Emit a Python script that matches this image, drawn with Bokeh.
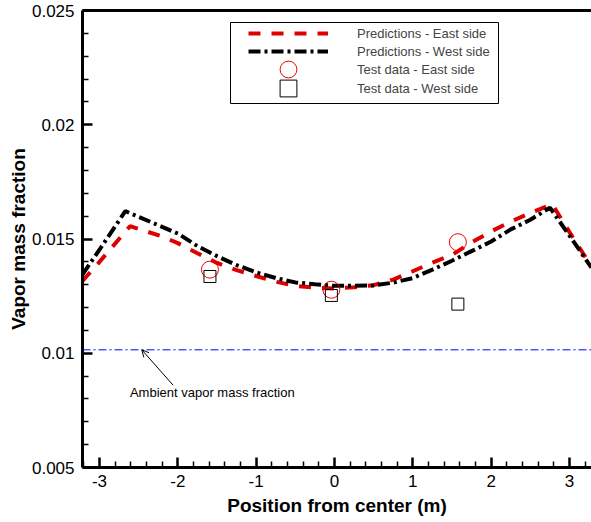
from bokeh.plotting import figure
from bokeh.models import (Range1d, FixedTicker, LinearAxis, Legend, LegendItem, Span,
                          Arrow, OpenHead, BoxAnnotation, Label)
from bokeh.embed import file_html
from bokeh.resources import INLINE

FONT = "Liberation Sans"

# ---- data ----
x_east = [-3.22, -3.0, -2.61, -2.2, -2.0, -1.75, -1.5, -1.25, -1.0, -0.75, -0.5, -0.25,
          0.0, 0.25, 0.5, 0.75, 1.0, 1.25, 1.5, 1.75, 2.0, 2.25, 2.5, 2.78, 3.0, 3.28]
y_east = [0.01315, 0.01400, 0.01556, 0.01511, 0.01482, 0.01438, 0.01395, 0.01364, 0.01338,
          0.01313, 0.01295, 0.01287, 0.01283, 0.01289, 0.01298, 0.01322, 0.01359, 0.01397,
          0.01430, 0.01485, 0.01533, 0.01576, 0.01614, 0.01652, 0.01530, 0.01380]
x_west = [-3.22, -3.0, -2.67, -2.2, -2.0, -1.75, -1.5, -1.25, -1.0, -0.75, -0.5, -0.25,
          0.0, 0.25, 0.5, 0.75, 1.0, 1.25, 1.5, 1.75, 2.0, 2.25, 2.5, 2.75, 3.0, 3.28]
y_west = [0.01343, 0.01453, 0.01622, 0.01553, 0.01524, 0.01469, 0.01425, 0.01386, 0.01354,
          0.01329, 0.01310, 0.01302, 0.01295, 0.01295, 0.01297, 0.01309, 0.01329, 0.01366,
          0.01405, 0.01447, 0.01489, 0.01542, 0.01584, 0.01637, 0.01515, 0.01375]
x_test = [-1.59, -0.04, 1.575]
y_test_east = [0.01366, 0.01278, 0.01486]
y_test_west = [0.01336, 0.01253, 0.01215]
ambient = 0.01015

labels = ["Predictions - East side", "Predictions - West side",
          "Test data - East side", "Test data - West side"]
x_ticks = [-3, -2, -1, 0, 1, 2, 3]
x_tick_labels = ["-3", "-2", "-1", "0", "1", "2", "3"]
y_ticks = [0.005, 0.01, 0.015, 0.02, 0.025]
y_tick_labels = ["0.005", "0.01", "0.015", "0.02", "0.025"]

note_text = "Ambient vapor mass fraction"
note_xy = (-1.56, 0.0083)
arrow_tail = (-2.06, 0.0086)
arrow_head_x = -2.46

# ---- figure ----
p = figure(width=591, height=522, output_backend="svg", toolbar_location=None,
           x_range=Range1d(-3.217, 3.281), y_range=Range1d(0.005, 0.025),
           min_border_left=82, min_border_right=0, min_border_top=10, min_border_bottom=55)
p.outline_line_color = None
p.grid.visible = False
p.background_fill_color = "white"
p.border_fill_color = "white"

# ambient line
p.add_layout(Span(location=ambient, dimension="width", line_color="#0000ff",
                  line_width=1, line_dash="8 3 2 3"))

r_east = p.line(x_east, y_east, line_color="#dd0000", line_width=4, line_dash="12 11")
r_west = p.line(x_west, y_west, line_color="black", line_width=4, line_dash="12 4 3 4")
r_te = p.scatter(x_test, y_test_east, marker="circle", size=17, fill_color=None,
                 line_color="#ee0000", line_width=1)
r_tw = p.scatter(x_test, y_test_west, marker="square", size=12, fill_color=None,
                 line_color="black", line_width=1)

# annotation
p.add_layout(Label(x=note_xy[0], y=note_xy[1], text=note_text, text_align="center",
                   text_baseline="middle", text_font=FONT, text_font_size="13px",
                   text_color="black"))
p.add_layout(Arrow(end=OpenHead(size=7, line_width=1, line_color="black"),
                   x_start=arrow_tail[0], y_start=arrow_tail[1],
                   x_end=arrow_head_x, y_end=ambient, line_width=1, line_color="black"))

# legend: one single-item legend per row so that the markers can be drawn large
renderers = [r_east, r_west, r_te, r_tw]
row_loc_y = [413, 395, 377, 358]
for lab, ren, ly in zip(labels, renderers, row_loc_y):
    p.add_layout(Legend(items=[LegendItem(label=lab, renderers=[ren])],
                        location=(166, ly), glyph_width=80, glyph_height=42,
                        label_height=42, spacing=0, padding=0, margin=0,
                        label_standoff=29, label_text_font=FONT,
                        label_text_font_size="13px",
                        background_fill_alpha=0, border_line_alpha=0))
p.add_layout(BoxAnnotation(left=148, right=416, bottom=364, top=445,
                           left_units="screen", right_units="screen",
                           bottom_units="screen", top_units="screen",
                           fill_alpha=0, line_color="black", line_width=1, line_alpha=1))

# axes
minor_x = [round(-3.2 + 0.2 * i, 1) for i in range(33)]
minor_x = [v for v in minor_x if abs(v - round(v)) > 1e-9]
minor_y = [round(0.005 + 0.001 * i, 3) for i in range(21)]
minor_y = [v for v in minor_y if v not in y_ticks]

xa = p.xaxis[0]
xa.ticker = FixedTicker(ticks=x_ticks, minor_ticks=minor_x)
xa.major_label_overrides = dict(zip(x_ticks, x_tick_labels))
ya = p.yaxis[0]
ya.ticker = FixedTicker(ticks=y_ticks, minor_ticks=minor_y)
ya.major_label_overrides = dict(zip(y_ticks, y_tick_labels))

xa.axis_label = "Position from center (m)"
ya.axis_label = "Vapor mass fraction"
for ax in (xa, ya):
    ax.axis_line_width = 3
    ax.axis_line_color = "black"
    ax.major_tick_in = 10
    ax.major_tick_out = 0
    ax.minor_tick_in = 6
    ax.minor_tick_out = 0
    ax.major_tick_line_width = 2.5
    ax.minor_tick_line_width = 1.5
    ax.major_label_text_font = FONT
    ax.major_label_text_font_size = "17px"
    ax.major_label_text_color = "black"
    ax.axis_label_text_font = FONT
    ax.axis_label_text_font_size = "19px"
    ax.axis_label_text_font_style = "bold"
    ax.axis_label_text_color = "black"
xa.major_label_standoff = 7
xa.axis_label_standoff = 5
ya.major_label_standoff = 8
ya.axis_label_standoff = 0

top = LinearAxis(ticker=FixedTicker(ticks=[]), axis_line_width=3, axis_line_color="black",
                 major_tick_in=0, major_tick_out=0, minor_tick_in=0, minor_tick_out=0,
                 major_label_text_font_size="0px", major_label_standoff=0)
p.add_layout(top, "above")

open("out.html", "w").write(file_html(p, INLINE))
